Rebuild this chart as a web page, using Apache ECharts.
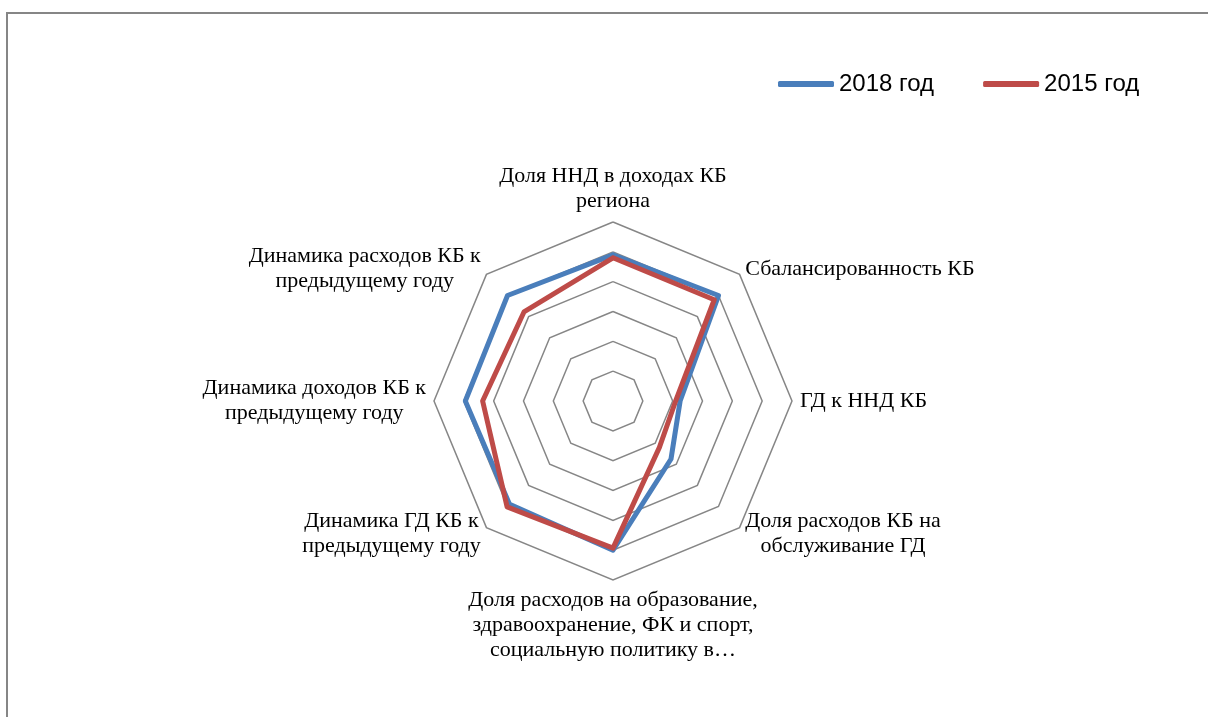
<!DOCTYPE html>
<html>
	<head>
		<meta charset="utf-8">
		<title>Радар</title>
		<script src="https://cdn.jsdelivr.net/npm/echarts@6/dist/echarts.min.js"></script>
		<style>
			html, body { margin: 0; padding: 0; background: #fff; }
			#main { width: 1208px; height: 717px; }
		</style>
	</head>
	<body>
		<div id="main"></div>
		<script type="text/javascript">
			// оси по часовой стрелке, начиная сверху
			var categories = [
				'Доля ННД в доходах КБ\nрегиона',
				'Сбалансированность КБ',
				'ГД к ННД КБ',
				'Доля расходов КБ на\nобслуживание ГД',
				'Доля расходов на образование,\nздравоохранение, ФК и спорт,\nсоциальную политику в…',
				'Динамика ГД КБ к\nпредыдущему году',
				'Динамика доходов КБ к\nпредыдущему году',
				'Динамика расходов КБ к\nпредыдущему году'
			];
			var seriesNames = ['2018 год', '2015 год'];
			var values2018 = [4.9, 5.0, 2.25, 2.75, 5.0, 4.9, 4.95, 5.0];
			var values2015 = [4.8, 4.8, 2.1, 2.2, 4.93, 5.02, 4.37, 4.22];
			var axisMax = 6;

			// echarts рисует оси радара против часовой стрелки - переставляем
			var order = [0, 7, 6, 5, 4, 3, 2, 1];
			function reorder(arr){
				return order.map(function(i){ return arr[i]; });
			}

			var chart = echarts.init(document.getElementById('main'));
			var option = {
				backgroundColor: '#fff',
				animation: false,
				graphic: [{
					type: 'rect',
					shape: { x: 7, y: 13, width: 1400, height: 900 },
					style: { fill: 'none', stroke: '#868686', lineWidth: 2 },
					silent: true
				}],
				legend: {
					data: seriesNames,
					left: 773,
					top: 67,
					itemWidth: 56,
					itemHeight: 6,
					itemGap: 49,
					icon: 'roundRect',
					textStyle: {
						fontFamily: 'Liberation Sans',
						fontSize: 24,
						color: '#000'
					}
				},
				radar: {
					center: [613, 401],
					radius: 179,
					startAngle: 90,
					splitNumber: 6,
					shape: 'polygon',
					nameGap: 8,
					indicator: reorder(categories).map(function(c){
						return { name: c, min: 0, max: axisMax };
					}),
					axisName: {
						color: '#000',
						fontFamily: 'Liberation Serif',
						fontSize: 22,
						lineHeight: 25,
						formatter: function(name){
							return name.split('\n').map(function(l){ return '{c|' + l + '}'; }).join('\n');
						},
						rich: {
							c: {
								align: 'center',
								color: '#000',
								fontFamily: 'Liberation Serif',
								fontSize: 22,
								lineHeight: 25
							}
						}
					},
					axisLine: { show: false },
					axisTick: { show: false },
					axisLabel: { show: false },
					splitArea: { show: false },
					splitLine: {
						lineStyle: { color: '#868686', width: 1.5 }
					}
				},
				series: [{
					type: 'radar',
					symbol: 'none',
					data: [{
						name: seriesNames[0],
						value: reorder(values2018),
						lineStyle: { color: '#4A7EBB', width: 5, join: 'round', cap: 'round' },
						itemStyle: { color: '#4A7EBB' }
					}, {
						name: seriesNames[1],
						value: reorder(values2015),
						lineStyle: { color: '#BE4B48', width: 5, join: 'round', cap: 'round' },
						itemStyle: { color: '#BE4B48' }
					}]
				}]
			};
			chart.setOption(option);
		</script>
	</body>
</html>
